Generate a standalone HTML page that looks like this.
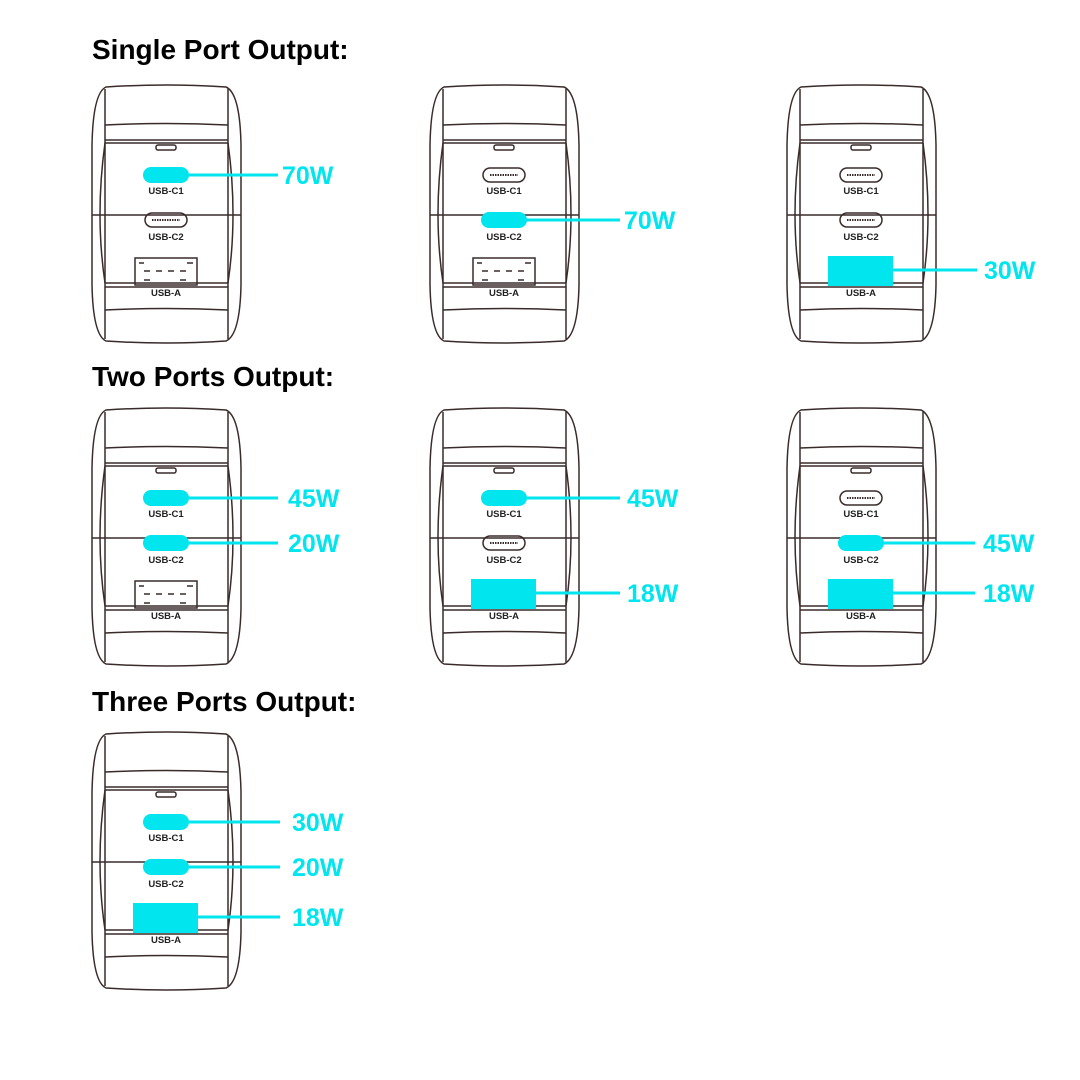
<!DOCTYPE html>
<html><head><meta charset="utf-8"><style>
html,body{margin:0;padding:0;background:#fff;}
svg{display:block;}
.h{font-family:"Liberation Sans",Arial,sans-serif;font-weight:bold;font-size:28px;fill:#000;}
.w{font-family:"Liberation Sans",Arial,sans-serif;font-weight:bold;font-size:25px;fill:#00e5ee;}
.l{font-family:"Liberation Sans",Arial,sans-serif;font-weight:bold;font-size:9.5px;fill:#222;text-anchor:middle;}
</style></head><body>
<svg width="1080" height="1080" viewBox="0 0 1080 1080" xmlns="http://www.w3.org/2000/svg">
<defs>
<g id="body" fill="none" stroke="#3a2b2b" stroke-width="1.5">
  <path d="M14 2 Q74 -2 134 2 Q148 8 149 60 L149 200 Q148 250 134 256 Q74 260 14 256 Q1 250 0 200 L0 60 Q1 8 14 2 Z"/>
  <path d="M13 4 L13 254 M136 4 L136 254"/>
  <path d="M13 40 Q74 37 136 40"/>
  <path d="M13 55 L136 55 M13 58 L136 58"/>
  <rect x="64" y="60" width="20" height="5" rx="2"/>
  <path d="M0 130 L149 130"/>
  <path d="M13 198 L136 198 M13 202 L136 202"/>
  <path d="M13 225 Q74 222 136 225"/>
  <path d="M13 58 Q3 130 13 198 M136 58 Q146 130 136 198"/>
</g>
<g id="cN" fill="none" stroke="#3a2b2b" stroke-width="1.5">
  <rect x="-21" y="-7" width="42" height="14" rx="7"/>
  <path d="M-14 0 L14 0" stroke-width="2" stroke-dasharray="1.5 1"/>
</g>
<g id="cH"><rect x="-23" y="-8" width="46" height="16" rx="8" fill="#00e5ee"/></g>
<g id="aN" fill="none" stroke="#3a2b2b" stroke-width="1.5">
  <rect x="43" y="173" width="62" height="27"/>
  <path d="M47 178 L52 178 M95 178 L101 178 M52 186 L58 186 M64 186 L70 186 M76 186 L82 186 M88 186 L94 186 M52 195 L58 195 M88 195 L94 195"/>
</g>
<g id="aH"><rect x="41" y="171" width="65" height="30" fill="#00e5ee"/></g>
<g id="labels">
  <text class="l" x="74" y="109">USB-C1</text>
  <text class="l" x="74" y="155">USB-C2</text>
  <text class="l" x="74" y="211">USB-A</text>
</g>
</defs>

<text class="h" x="92" y="59">Single Port Output:</text>
<text class="h" x="92" y="386">Two Ports Output:</text>
<text class="h" x="92" y="711">Three Ports Output:</text>

<!-- Row1 col1 -->
<g transform="translate(92,85)">
  <use href="#body"/><use href="#labels"/>
  <use href="#cH" x="74" y="90"/><use href="#cN" x="74" y="135"/><use href="#aN"/>
  <line x1="96" y1="90" x2="186" y2="90" stroke="#00e5ee" stroke-width="3"/>
  <text class="w" x="190" y="99">70W</text>
</g>
<!-- Row1 col2 -->
<g transform="translate(430,85)">
  <use href="#body"/><use href="#labels"/>
  <use href="#cN" x="74" y="90"/><use href="#cH" x="74" y="135"/><use href="#aN"/>
  <line x1="96" y1="135" x2="190" y2="135" stroke="#00e5ee" stroke-width="3"/>
  <text class="w" x="194" y="144">70W</text>
</g>
<!-- Row1 col3 -->
<g transform="translate(787,85)">
  <use href="#body"/><use href="#labels"/>
  <use href="#cN" x="74" y="90"/><use href="#cN" x="74" y="135"/><use href="#aH"/>
  <line x1="106" y1="185" x2="190" y2="185" stroke="#00e5ee" stroke-width="3"/>
  <text class="w" x="197" y="194">30W</text>
</g>
<!-- Row2 col1 -->
<g transform="translate(92,408)">
  <use href="#body"/><use href="#labels"/>
  <use href="#cH" x="74" y="90"/><use href="#cH" x="74" y="135"/><use href="#aN"/>
  <line x1="96" y1="90" x2="186" y2="90" stroke="#00e5ee" stroke-width="3"/>
  <text class="w" x="196" y="99">45W</text>
  <line x1="96" y1="135" x2="186" y2="135" stroke="#00e5ee" stroke-width="3"/>
  <text class="w" x="196" y="144">20W</text>
</g>
<!-- Row2 col2 -->
<g transform="translate(430,408)">
  <use href="#body"/><use href="#labels"/>
  <use href="#cH" x="74" y="90"/><use href="#cN" x="74" y="135"/><use href="#aH"/>
  <line x1="96" y1="90" x2="190" y2="90" stroke="#00e5ee" stroke-width="3"/>
  <text class="w" x="197" y="99">45W</text>
  <line x1="106" y1="185" x2="190" y2="185" stroke="#00e5ee" stroke-width="3"/>
  <text class="w" x="197" y="194">18W</text>
</g>
<!-- Row2 col3 -->
<g transform="translate(787,408)">
  <use href="#body"/><use href="#labels"/>
  <use href="#cN" x="74" y="90"/><use href="#cH" x="74" y="135"/><use href="#aH"/>
  <line x1="96" y1="135" x2="188" y2="135" stroke="#00e5ee" stroke-width="3"/>
  <text class="w" x="196" y="144">45W</text>
  <line x1="106" y1="185" x2="188" y2="185" stroke="#00e5ee" stroke-width="3"/>
  <text class="w" x="196" y="194">18W</text>
</g>
<!-- Row3 col1 -->
<g transform="translate(92,732)">
  <use href="#body"/><use href="#labels"/>
  <use href="#cH" x="74" y="90"/><use href="#cH" x="74" y="135"/><use href="#aH"/>
  <line x1="96" y1="90" x2="188" y2="90" stroke="#00e5ee" stroke-width="3"/>
  <text class="w" x="200" y="99">30W</text>
  <line x1="96" y1="135" x2="188" y2="135" stroke="#00e5ee" stroke-width="3"/>
  <text class="w" x="200" y="144">20W</text>
  <line x1="106" y1="185" x2="188" y2="185" stroke="#00e5ee" stroke-width="3"/>
  <text class="w" x="200" y="194">18W</text>
</g>
</svg>
</body></html>
